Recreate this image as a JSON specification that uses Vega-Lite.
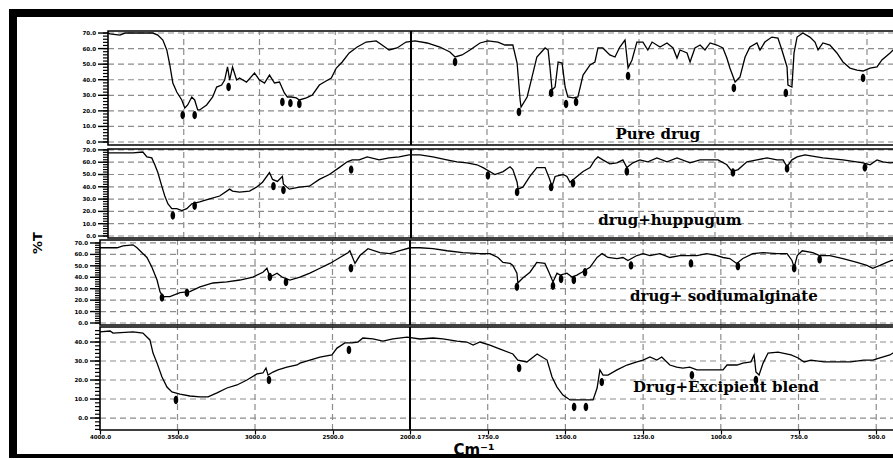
{
  "$schema": "https://vega.github.io/schema/vega-lite/v6.json",
  "width": 890,
  "height": 445,
  "autosize": "none",
  "padding": {"left": 13, "top": 13, "right": 0, "bottom": 0},
  "background": "white",
  "config": {
    "view": {"stroke": "#000", "strokeWidth": 8, "fill": "white"},
    "axis": {"grid": false, "domain": false}
  },
  "datasets": {
    "vgrid": [{"wn": 3500}, {"wn": 3000}, {"wn": 2500}, {"wn": 1750}, {"wn": 1500}, {"wn": 1250}, {"wn": 1000}, {"wn": 750}, {"wn": 500}],
    "hgrid": [{"t": 0}, {"t": 10}, {"t": 20}, {"t": 30}, {"t": 40}, {"t": 50}, {"t": 60}, {"t": 70}],
    "yticks": [{"t":-6},{"t":-4},{"t":-2},{"t":0},{"t":2},{"t":4},{"t":6},{"t":8},{"t":10},{"t":12},{"t":14},{"t":16},{"t":18},{"t":20},{"t":22},{"t":24},{"t":26},{"t":28},{"t":30},{"t":32},{"t":34},{"t":36},{"t":38},{"t":40},{"t":42},{"t":44},{"t":46},{"t":48},{"t":50},{"t":52},{"t":54},{"t":56},{"t":58},{"t":60},{"t":62},{"t":64},{"t":66},{"t":68},{"t":70}],
    "labels": [
      {"panel": 1, "wn": 1188, "t": 1.9, "label": "Pure drug"},
      {"panel": 2, "wn": 1148, "t": 9.0, "label": "drug+huppugum"},
      {"panel": 3, "wn": 990, "t": 19.3, "label": "drug+ sodiumalginate"},
      {"panel": 4, "wn": 983, "t": 13.7, "label": "Drug+Excipient blend"}
    ],
    "pureDrug": [
      {"wn":4000,"t":70.0},{"wn":3987,"t":69.4},{"wn":3921,"t":68.7},{"wn":3888,"t":70.0},{"wn":3704,"t":70.0},{"wn":3671,"t":68.7},{"wn":3638,"t":65.5},{"wn":3612,"t":59.1},{"wn":3592,"t":49.5},{"wn":3572,"t":37.9},{"wn":3546,"t":32.1},{"wn":3513,"t":27.0},{"wn":3493,"t":21.8},{"wn":3474,"t":23.8},{"wn":3447,"t":28.9},{"wn":3428,"t":27.0},{"wn":3408,"t":20.6},{"wn":3395,"t":20.6},{"wn":3349,"t":23.8},{"wn":3309,"t":28.9},{"wn":3283,"t":35.3},{"wn":3250,"t":36.6},{"wn":3230,"t":39.8},{"wn":3211,"t":48.2},{"wn":3197,"t":39.8},{"wn":3178,"t":48.2},{"wn":3151,"t":39.8},{"wn":3132,"t":41.1},{"wn":3086,"t":38.5},{"wn":3033,"t":44.3},{"wn":3000,"t":39.8},{"wn":2967,"t":37.9},{"wn":2934,"t":43.0},{"wn":2901,"t":37.9},{"wn":2868,"t":38.5},{"wn":2836,"t":31.5},{"wn":2816,"t":28.9},{"wn":2789,"t":28.9},{"wn":2757,"t":28.3},{"wn":2737,"t":27.0},{"wn":2691,"t":28.3},{"wn":2651,"t":30.2},{"wn":2605,"t":36.6},{"wn":2572,"t":38.5},{"wn":2526,"t":41.1},{"wn":2493,"t":47.5},{"wn":2454,"t":51.4},{"wn":2408,"t":57.2},{"wn":2355,"t":61.0},{"wn":2296,"t":64.2},{"wn":2230,"t":64.9},{"wn":2191,"t":62.3},{"wn":2145,"t":59.1},{"wn":2092,"t":60.4},{"wn":2033,"t":64.2},{"wn":1987,"t":64.9},{"wn":1947,"t":63.6},{"wn":1905,"t":61.0},{"wn":1872,"t":57.8},{"wn":1855,"t":54.6},{"wn":1832,"t":55.9},{"wn":1806,"t":59.1},{"wn":1773,"t":63.6},{"wn":1747,"t":64.9},{"wn":1714,"t":64.2},{"wn":1691,"t":62.3},{"wn":1665,"t":62.3},{"wn":1651,"t":50.7},{"wn":1641,"t":27.0},{"wn":1638,"t":22.5},{"wn":1618,"t":28.9},{"wn":1602,"t":41.7},{"wn":1586,"t":54.6},{"wn":1559,"t":60.4},{"wn":1549,"t":59.1},{"wn":1543,"t":48.2},{"wn":1536,"t":33.4},{"wn":1526,"t":35.3},{"wn":1516,"t":51.4},{"wn":1503,"t":50.7},{"wn":1493,"t":35.3},{"wn":1484,"t":28.9},{"wn":1467,"t":28.3},{"wn":1451,"t":28.9},{"wn":1434,"t":43.0},{"wn":1411,"t":49.5},{"wn":1395,"t":51.4},{"wn":1385,"t":60.4},{"wn":1369,"t":60.4},{"wn":1346,"t":55.9},{"wn":1329,"t":54.6},{"wn":1313,"t":61.0},{"wn":1296,"t":65.5},{"wn":1286,"t":47.5},{"wn":1273,"t":52.7},{"wn":1257,"t":64.2},{"wn":1237,"t":64.2},{"wn":1221,"t":59.1},{"wn":1207,"t":64.2},{"wn":1181,"t":61.0},{"wn":1158,"t":63.6},{"wn":1138,"t":60.4},{"wn":1125,"t":53.9},{"wn":1115,"t":59.1},{"wn":1092,"t":57.2},{"wn":1082,"t":51.4},{"wn":1066,"t":60.4},{"wn":1049,"t":62.3},{"wn":1033,"t":59.1},{"wn":1016,"t":63.6},{"wn":994,"t":62.3},{"wn":974,"t":60.4},{"wn":961,"t":53.9},{"wn":951,"t":47.5},{"wn":934,"t":38.5},{"wn":918,"t":41.7},{"wn":901,"t":54.6},{"wn":885,"t":61.0},{"wn":862,"t":63.6},{"wn":852,"t":59.1},{"wn":836,"t":64.2},{"wn":813,"t":67.4},{"wn":793,"t":66.8},{"wn":780,"t":59.1},{"wn":763,"t":48.2},{"wn":760,"t":36.6},{"wn":747,"t":35.3},{"wn":740,"t":57.2},{"wn":730,"t":67.4},{"wn":711,"t":70.0},{"wn":688,"t":67.4},{"wn":671,"t":64.2},{"wn":661,"t":59.1},{"wn":645,"t":63.6},{"wn":622,"t":62.3},{"wn":599,"t":57.2},{"wn":579,"t":51.4},{"wn":556,"t":47.5},{"wn":533,"t":46.2},{"wn":513,"t":45.6},{"wn":490,"t":47.5},{"wn":467,"t":48.2},{"wn":451,"t":52.7},{"wn":424,"t":57.2},{"wn":414,"t":59.1},{"wn":400,"t":61.0}
    ],
    "drugHuppugum": [
      {"wn":4000,"t":67.5},{"wn":3836,"t":67.5},{"wn":3770,"t":68.3},{"wn":3743,"t":64.3},{"wn":3711,"t":63.5},{"wn":3691,"t":57.9},{"wn":3671,"t":51.6},{"wn":3645,"t":40.5},{"wn":3625,"t":32.5},{"wn":3605,"t":26.2},{"wn":3579,"t":22.2},{"wn":3546,"t":22.2},{"wn":3513,"t":20.6},{"wn":3480,"t":22.2},{"wn":3447,"t":26.2},{"wn":3395,"t":27.8},{"wn":3329,"t":30.2},{"wn":3263,"t":32.5},{"wn":3197,"t":38.1},{"wn":3178,"t":36.5},{"wn":3132,"t":35.7},{"wn":3066,"t":36.5},{"wn":3020,"t":39.7},{"wn":2980,"t":43.7},{"wn":2934,"t":51.6},{"wn":2914,"t":46.0},{"wn":2882,"t":44.4},{"wn":2849,"t":48.4},{"wn":2842,"t":42.1},{"wn":2803,"t":38.1},{"wn":2737,"t":39.7},{"wn":2671,"t":40.5},{"wn":2605,"t":46.0},{"wn":2539,"t":50.0},{"wn":2474,"t":55.6},{"wn":2421,"t":60.3},{"wn":2388,"t":61.9},{"wn":2342,"t":61.9},{"wn":2289,"t":64.3},{"wn":2210,"t":61.9},{"wn":2145,"t":63.5},{"wn":2079,"t":64.3},{"wn":2013,"t":65.9},{"wn":1970,"t":65.9},{"wn":1928,"t":64.3},{"wn":1882,"t":61.9},{"wn":1849,"t":60.3},{"wn":1816,"t":59.5},{"wn":1783,"t":57.9},{"wn":1763,"t":55.6},{"wn":1724,"t":50.0},{"wn":1697,"t":52.4},{"wn":1674,"t":56.3},{"wn":1665,"t":54.0},{"wn":1651,"t":43.7},{"wn":1648,"t":38.1},{"wn":1632,"t":39.7},{"wn":1609,"t":48.4},{"wn":1586,"t":55.6},{"wn":1559,"t":55.6},{"wn":1546,"t":47.6},{"wn":1536,"t":40.5},{"wn":1526,"t":48.4},{"wn":1500,"t":50.0},{"wn":1487,"t":48.4},{"wn":1477,"t":43.7},{"wn":1454,"t":48.4},{"wn":1434,"t":52.4},{"wn":1411,"t":55.6},{"wn":1395,"t":61.9},{"wn":1385,"t":64.3},{"wn":1369,"t":61.9},{"wn":1346,"t":58.7},{"wn":1323,"t":59.5},{"wn":1303,"t":61.9},{"wn":1290,"t":55.6},{"wn":1270,"t":59.5},{"wn":1247,"t":61.9},{"wn":1221,"t":60.3},{"wn":1191,"t":63.5},{"wn":1158,"t":60.3},{"wn":1125,"t":63.5},{"wn":1082,"t":59.5},{"wn":1049,"t":61.9},{"wn":1016,"t":61.9},{"wn":990,"t":61.9},{"wn":961,"t":57.9},{"wn":944,"t":52.4},{"wn":924,"t":54.0},{"wn":895,"t":60.3},{"wn":862,"t":61.9},{"wn":829,"t":63.5},{"wn":796,"t":61.9},{"wn":776,"t":61.9},{"wn":763,"t":56.3},{"wn":747,"t":61.9},{"wn":730,"t":64.3},{"wn":704,"t":65.9},{"wn":645,"t":63.5},{"wn":579,"t":61.9},{"wn":513,"t":59.5},{"wn":490,"t":57.9},{"wn":467,"t":61.9},{"wn":448,"t":60.3},{"wn":424,"t":59.5},{"wn":400,"t":60.0}
    ],
    "drugSodiumAlginate": [
      {"wn":4000,"t":65.8},{"wn":3890,"t":65.8},{"wn":3852,"t":67.5},{"wn":3787,"t":68.4},{"wn":3761,"t":65.8},{"wn":3729,"t":61.5},{"wn":3697,"t":57.3},{"wn":3665,"t":48.7},{"wn":3632,"t":37.6},{"wn":3613,"t":27.4},{"wn":3594,"t":23.1},{"wn":3549,"t":23.1},{"wn":3484,"t":26.5},{"wn":3420,"t":27.4},{"wn":3355,"t":31.6},{"wn":3271,"t":35.0},{"wn":3181,"t":35.9},{"wn":3097,"t":37.6},{"wn":3013,"t":40.2},{"wn":2949,"t":44.4},{"wn":2923,"t":47.9},{"wn":2904,"t":40.2},{"wn":2858,"t":43.6},{"wn":2826,"t":40.2},{"wn":2775,"t":37.6},{"wn":2710,"t":40.2},{"wn":2646,"t":43.6},{"wn":2581,"t":47.9},{"wn":2517,"t":52.1},{"wn":2452,"t":57.3},{"wn":2400,"t":61.5},{"wn":2388,"t":63.2},{"wn":2355,"t":52.1},{"wn":2323,"t":59.0},{"wn":2271,"t":65.0},{"wn":2194,"t":61.5},{"wn":2130,"t":60.7},{"wn":2065,"t":63.2},{"wn":2000,"t":65.8},{"wn":1968,"t":65.8},{"wn":1926,"t":65.0},{"wn":1881,"t":63.2},{"wn":1830,"t":61.5},{"wn":1775,"t":60.7},{"wn":1743,"t":60.7},{"wn":1717,"t":57.3},{"wn":1701,"t":53.0},{"wn":1678,"t":52.1},{"wn":1669,"t":50.4},{"wn":1656,"t":43.6},{"wn":1653,"t":35.0},{"wn":1637,"t":39.3},{"wn":1614,"t":44.4},{"wn":1592,"t":53.0},{"wn":1566,"t":52.1},{"wn":1553,"t":44.4},{"wn":1540,"t":35.9},{"wn":1527,"t":43.6},{"wn":1517,"t":41.9},{"wn":1495,"t":43.6},{"wn":1479,"t":40.2},{"wn":1463,"t":41.9},{"wn":1447,"t":44.4},{"wn":1421,"t":48.7},{"wn":1398,"t":57.3},{"wn":1382,"t":60.7},{"wn":1363,"t":57.3},{"wn":1334,"t":56.4},{"wn":1315,"t":57.3},{"wn":1299,"t":54.7},{"wn":1270,"t":59.0},{"wn":1250,"t":60.7},{"wn":1228,"t":59.0},{"wn":1196,"t":60.7},{"wn":1164,"t":57.3},{"wn":1132,"t":59.0},{"wn":1106,"t":59.0},{"wn":1077,"t":59.0},{"wn":1045,"t":60.7},{"wn":1012,"t":59.0},{"wn":993,"t":57.3},{"wn":971,"t":56.4},{"wn":949,"t":52.1},{"wn":929,"t":56.4},{"wn":897,"t":60.7},{"wn":864,"t":61.5},{"wn":819,"t":60.7},{"wn":787,"t":60.7},{"wn":771,"t":54.7},{"wn":764,"t":48.7},{"wn":754,"t":59.0},{"wn":738,"t":63.2},{"wn":704,"t":61.5},{"wn":682,"t":59.0},{"wn":649,"t":59.0},{"wn":607,"t":56.4},{"wn":562,"t":53.0},{"wn":530,"t":50.4},{"wn":511,"t":47.9},{"wn":488,"t":50.4},{"wn":466,"t":53.0},{"wn":450,"t":54.7},{"wn":400,"t":56.0}
    ],
    "drugExcipientBlend": [
      {"wn":4000,"t":45.3},{"wn":3935,"t":45.8},{"wn":3916,"t":44.7},{"wn":3787,"t":45.3},{"wn":3723,"t":44.7},{"wn":3678,"t":41.1},{"wn":3658,"t":34.2},{"wn":3632,"t":28.9},{"wn":3600,"t":21.6},{"wn":3568,"t":16.3},{"wn":3536,"t":13.7},{"wn":3484,"t":12.6},{"wn":3420,"t":11.6},{"wn":3355,"t":11.1},{"wn":3303,"t":11.1},{"wn":3245,"t":13.2},{"wn":3181,"t":15.8},{"wn":3116,"t":17.4},{"wn":3052,"t":20.0},{"wn":2987,"t":23.2},{"wn":2949,"t":23.7},{"wn":2929,"t":26.3},{"wn":2916,"t":22.6},{"wn":2884,"t":24.2},{"wn":2852,"t":25.3},{"wn":2794,"t":26.8},{"wn":2729,"t":27.9},{"wn":2710,"t":28.9},{"wn":2646,"t":30.5},{"wn":2581,"t":32.1},{"wn":2504,"t":33.2},{"wn":2471,"t":36.8},{"wn":2420,"t":39.5},{"wn":2375,"t":39.5},{"wn":2336,"t":40.0},{"wn":2304,"t":42.1},{"wn":2239,"t":41.6},{"wn":2175,"t":40.5},{"wn":2110,"t":41.6},{"wn":2019,"t":42.6},{"wn":1968,"t":41.6},{"wn":1926,"t":42.1},{"wn":1894,"t":41.6},{"wn":1849,"t":40.5},{"wn":1817,"t":40.0},{"wn":1797,"t":38.4},{"wn":1775,"t":40.0},{"wn":1743,"t":38.4},{"wn":1710,"t":36.3},{"wn":1669,"t":33.7},{"wn":1653,"t":30.5},{"wn":1624,"t":29.5},{"wn":1591,"t":33.7},{"wn":1559,"t":30.5},{"wn":1543,"t":21.6},{"wn":1527,"t":16.3},{"wn":1508,"t":12.1},{"wn":1485,"t":9.5},{"wn":1453,"t":9.5},{"wn":1421,"t":9.5},{"wn":1411,"t":9.5},{"wn":1398,"t":15.8},{"wn":1389,"t":25.3},{"wn":1379,"t":22.6},{"wn":1363,"t":22.6},{"wn":1334,"t":25.3},{"wn":1302,"t":27.9},{"wn":1270,"t":29.5},{"wn":1250,"t":30.5},{"wn":1228,"t":32.1},{"wn":1206,"t":30.5},{"wn":1190,"t":32.1},{"wn":1164,"t":27.9},{"wn":1142,"t":26.8},{"wn":1122,"t":26.3},{"wn":1100,"t":26.8},{"wn":1077,"t":25.3},{"wn":1057,"t":25.3},{"wn":993,"t":25.3},{"wn":980,"t":27.9},{"wn":948,"t":27.9},{"wn":929,"t":28.9},{"wn":903,"t":29.5},{"wn":893,"t":33.2},{"wn":887,"t":24.2},{"wn":877,"t":22.6},{"wn":864,"t":28.9},{"wn":848,"t":34.2},{"wn":816,"t":34.7},{"wn":774,"t":33.2},{"wn":751,"t":31.6},{"wn":732,"t":29.5},{"wn":710,"t":30.5},{"wn":668,"t":29.5},{"wn":623,"t":29.5},{"wn":582,"t":29.5},{"wn":540,"t":30.5},{"wn":511,"t":30.5},{"wn":488,"t":31.6},{"wn":456,"t":33.2},{"wn":446,"t":34.2},{"wn":400,"t":36.0}
    ],
    "peaksPure": [
      {"wn":3507,"t":17.3},{"wn":3428,"t":17.3},{"wn":3204,"t":35.3},{"wn":2849,"t":25.7},{"wn":2796,"t":25.0},{"wn":2737,"t":24.4},{"wn":1855,"t":51.4},{"wn":1645,"t":19.3},{"wn":1539,"t":31.5},{"wn":1490,"t":24.4},{"wn":1457,"t":25.7},{"wn":1286,"t":42.4},{"wn":938,"t":34.7},{"wn":767,"t":31.5},{"wn":513,"t":41.1}
    ],
    "peaksHuppugum": [
      {"wn":3572,"t":16.7},{"wn":3428,"t":24.6},{"wn":2908,"t":40.5},{"wn":2842,"t":37.3},{"wn":2395,"t":54.0},{"wn":1747,"t":49.2},{"wn":1651,"t":35.7},{"wn":1539,"t":39.7},{"wn":1467,"t":42.9},{"wn":1290,"t":52.4},{"wn":941,"t":51.6},{"wn":763,"t":54.8},{"wn":507,"t":55.6}
    ],
    "peaksAlginate": [
      {"wn":3600,"t":22.2},{"wn":3439,"t":26.5},{"wn":2904,"t":40.2},{"wn":2800,"t":35.9},{"wn":2381,"t":47.9},{"wn":1656,"t":31.6},{"wn":1540,"t":32.5},{"wn":1514,"t":38.5},{"wn":1473,"t":37.6},{"wn":1437,"t":44.4},{"wn":1289,"t":50.4},{"wn":1096,"t":52.1},{"wn":945,"t":49.6},{"wn":764,"t":47.9},{"wn":682,"t":55.6}
    ],
    "peaksBlend": [
      {"wn":3510,"t":9.5},{"wn":2910,"t":20.0},{"wn":2394,"t":35.8},{"wn":1649,"t":26.3},{"wn":1472,"t":5.8},{"wn":1434,"t":5.8},{"wn":1383,"t":18.9},{"wn":1093,"t":22.6},{"wn":887,"t":20.0}
    ]
  },
  "layer": [
    {
      "layer": [
        {"data": {"name": "vgrid"}, "mark": {"type": "rule", "stroke": "#8c8c8c", "strokeWidth": 1.2, "strokeDash": [6, 4]},
         "encoding": {"x": {"field": "wn", "type": "quantitative", "scale": {"domain": [4000, 2000, 400], "range": [95, 398, 884.4], "nice": false, "zero": false}, "axis": null},
                      "y": {"datum": -1.93, "type": "quantitative", "scale": {"domain": [-1.93, 71.3], "range": [132, 18], "nice": false, "zero": false}, "axis": null}, "y2": {"datum": 71.3}}},
        {"data": {"name": "hgrid"}, "mark": {"type": "rule", "stroke": "#8c8c8c", "strokeWidth": 1.2, "strokeDash": [6, 4]},
         "encoding": {"y": {"field": "t", "type": "quantitative", "axis": null}, "x": {"datum": 4000, "type": "quantitative", "axis": null}, "x2": {"datum": 400}}},
        {"data": {"values": [{}]}, "mark": {"type": "rule", "stroke": "#000", "strokeWidth": 2},
         "encoding": {"x": {"datum": 2000, "type": "quantitative", "axis": null}, "y": {"datum": -1.93, "type": "quantitative", "axis": null}, "y2": {"datum": 71.3}}},
        {"data": {"values": [{}]}, "mark": {"type": "rect", "filled": false, "stroke": "#000", "strokeWidth": 1.6},
         "encoding": {"x": {"datum": 4000, "type": "quantitative", "axis": null}, "x2": {"datum": 400}, "y": {"datum": -1.93, "type": "quantitative", "axis": null}, "y2": {"datum": 71.3}}},
        {"data": {"name": "yticks"}, "transform": [{"filter": "datum.t >= 0 && datum.t <= 70"}], "mark": {"type": "tick", "orient": "horizontal", "size": 5, "thickness": 1.2, "xOffset": -2.5, "color": "#000", "opacity": 1},
         "encoding": {"x": {"datum": 4000, "type": "quantitative", "axis": null}, "y": {"field": "t", "type": "quantitative", "axis": null}}},
        {"data": {"name": "yticks"}, "transform": [{"filter": "datum.t >= 0 && datum.t <= 70 && datum.t % 10 === 0"}], "mark": {"type": "tick", "orient": "horizontal", "size": 10, "thickness": 1.4, "xOffset": -5, "color": "#000", "opacity": 1},
         "encoding": {"x": {"datum": 4000, "type": "quantitative", "axis": null}, "y": {"field": "t", "type": "quantitative", "axis": null}}},
        {"data": {"name": "yticks"}, "transform": [{"filter": "datum.t >= 0 && datum.t <= 70 && datum.t % 10 === 0"}], "mark": {"type": "text", "align": "right", "baseline": "middle", "dx": -12, "font": "DejaVu Sans", "fontWeight": "bold", "fontSize": 5.5, "color": "#000"},
         "encoding": {"x": {"datum": 4000, "type": "quantitative", "axis": null}, "y": {"field": "t", "type": "quantitative", "axis": null}, "text": {"field": "t", "type": "quantitative", "format": ".1f"}}},
        {"data": {"name": "pureDrug"}, "mark": {"type": "line", "stroke": "#000", "strokeWidth": 1.3},
         "encoding": {"x": {"field": "wn", "type": "quantitative", "axis": null}, "y": {"field": "t", "type": "quantitative", "axis": null}}},
        {"data": {"name": "peaksPure"}, "mark": {"type": "point", "shape": "M0,-1A0.55,1,0,1,1,0,1A0.55,1,0,1,1,0,-1Z", "filled": true, "fill": "#000", "size": 70, "opacity": 1},
         "encoding": {"x": {"field": "wn", "type": "quantitative", "axis": null}, "y": {"field": "t", "type": "quantitative", "axis": null}}},
        {"data": {"name": "labels"}, "transform": [{"filter": "datum.panel === 1"}], "mark": {"type": "text", "font": "DejaVu Serif", "fontWeight": "bold", "fontSize": 15, "align": "center", "baseline": "alphabetic", "color": "#000"},
         "encoding": {"x": {"field": "wn", "type": "quantitative", "axis": null}, "y": {"field": "t", "type": "quantitative", "axis": null}, "text": {"field": "label"}}}
      ]
    },
    {
      "layer": [
        {"data": {"name": "vgrid"}, "mark": {"type": "rule", "stroke": "#8c8c8c", "strokeWidth": 1.2, "strokeDash": [6, 4]},
         "encoding": {"x": {"field": "wn", "type": "quantitative", "scale": {"domain": [4000, 2000, 400], "range": [95, 398, 884.4], "nice": false, "zero": false}, "axis": null},
                      "y": {"datum": -1.63, "type": "quantitative", "scale": {"domain": [-1.63, 70.73], "range": [225, 136], "nice": false, "zero": false}, "axis": null}, "y2": {"datum": 70.73}}},
        {"data": {"name": "hgrid"}, "mark": {"type": "rule", "stroke": "#8c8c8c", "strokeWidth": 1.2, "strokeDash": [6, 4]},
         "encoding": {"y": {"field": "t", "type": "quantitative", "axis": null}, "x": {"datum": 4000, "type": "quantitative", "axis": null}, "x2": {"datum": 400}}},
        {"data": {"values": [{}]}, "mark": {"type": "rule", "stroke": "#000", "strokeWidth": 2},
         "encoding": {"x": {"datum": 2000, "type": "quantitative", "axis": null}, "y": {"datum": -1.63, "type": "quantitative", "axis": null}, "y2": {"datum": 70.73}}},
        {"data": {"values": [{}]}, "mark": {"type": "rect", "filled": false, "stroke": "#000", "strokeWidth": 1.6},
         "encoding": {"x": {"datum": 4000, "type": "quantitative", "axis": null}, "x2": {"datum": 400}, "y": {"datum": -1.63, "type": "quantitative", "axis": null}, "y2": {"datum": 70.73}}},
        {"data": {"name": "yticks"}, "transform": [{"filter": "datum.t >= 0 && datum.t <= 70"}], "mark": {"type": "tick", "orient": "horizontal", "size": 5, "thickness": 1.2, "xOffset": -2.5, "color": "#000", "opacity": 1},
         "encoding": {"x": {"datum": 4000, "type": "quantitative", "axis": null}, "y": {"field": "t", "type": "quantitative", "axis": null}}},
        {"data": {"name": "yticks"}, "transform": [{"filter": "datum.t >= 0 && datum.t <= 70 && datum.t % 10 === 0"}], "mark": {"type": "tick", "orient": "horizontal", "size": 10, "thickness": 1.4, "xOffset": -5, "color": "#000", "opacity": 1},
         "encoding": {"x": {"datum": 4000, "type": "quantitative", "axis": null}, "y": {"field": "t", "type": "quantitative", "axis": null}}},
        {"data": {"name": "yticks"}, "transform": [{"filter": "datum.t >= 0 && datum.t <= 70 && datum.t % 10 === 0"}], "mark": {"type": "text", "align": "right", "baseline": "middle", "dx": -12, "font": "DejaVu Sans", "fontWeight": "bold", "fontSize": 5.5, "color": "#000"},
         "encoding": {"x": {"datum": 4000, "type": "quantitative", "axis": null}, "y": {"field": "t", "type": "quantitative", "axis": null}, "text": {"field": "t", "type": "quantitative", "format": ".1f"}}},
        {"data": {"name": "drugHuppugum"}, "mark": {"type": "line", "stroke": "#000", "strokeWidth": 1.3},
         "encoding": {"x": {"field": "wn", "type": "quantitative", "axis": null}, "y": {"field": "t", "type": "quantitative", "axis": null}}},
        {"data": {"name": "peaksHuppugum"}, "mark": {"type": "point", "shape": "M0,-1A0.55,1,0,1,1,0,1A0.55,1,0,1,1,0,-1Z", "filled": true, "fill": "#000", "size": 70, "opacity": 1},
         "encoding": {"x": {"field": "wn", "type": "quantitative", "axis": null}, "y": {"field": "t", "type": "quantitative", "axis": null}}},
        {"data": {"name": "labels"}, "transform": [{"filter": "datum.panel === 2"}], "mark": {"type": "text", "font": "DejaVu Serif", "fontWeight": "bold", "fontSize": 15, "align": "center", "baseline": "alphabetic", "color": "#000"},
         "encoding": {"x": {"field": "wn", "type": "quantitative", "axis": null}, "y": {"field": "t", "type": "quantitative", "axis": null}, "text": {"field": "label"}}}
      ]
    },
    {
      "layer": [
        {"data": {"name": "vgrid"}, "mark": {"type": "rule", "stroke": "#8c8c8c", "strokeWidth": 1.2, "strokeDash": [6, 4]},
         "encoding": {"x": {"field": "wn", "type": "quantitative", "scale": {"domain": [4000, 2000, 400], "range": [87, 397, 894.3], "nice": false, "zero": false}, "axis": null},
                      "y": {"datum": -1.75, "type": "quantitative", "scale": {"domain": [-1.75, 72.6], "range": [312, 227], "nice": false, "zero": false}, "axis": null}, "y2": {"datum": 72.6}}},
        {"data": {"name": "hgrid"}, "mark": {"type": "rule", "stroke": "#8c8c8c", "strokeWidth": 1.2, "strokeDash": [6, 4]},
         "encoding": {"y": {"field": "t", "type": "quantitative", "axis": null}, "x": {"datum": 4000, "type": "quantitative", "axis": null}, "x2": {"datum": 400}}},
        {"data": {"values": [{}]}, "mark": {"type": "rule", "stroke": "#000", "strokeWidth": 2},
         "encoding": {"x": {"datum": 2000, "type": "quantitative", "axis": null}, "y": {"datum": -1.75, "type": "quantitative", "axis": null}, "y2": {"datum": 72.6}}},
        {"data": {"values": [{}]}, "mark": {"type": "rect", "filled": false, "stroke": "#000", "strokeWidth": 1.6},
         "encoding": {"x": {"datum": 4000, "type": "quantitative", "axis": null}, "x2": {"datum": 400}, "y": {"datum": -1.75, "type": "quantitative", "axis": null}, "y2": {"datum": 72.6}}},
        {"data": {"name": "yticks"}, "transform": [{"filter": "datum.t >= 0 && datum.t <= 70"}], "mark": {"type": "tick", "orient": "horizontal", "size": 5, "thickness": 1.2, "xOffset": -2.5, "color": "#000", "opacity": 1},
         "encoding": {"x": {"datum": 4000, "type": "quantitative", "axis": null}, "y": {"field": "t", "type": "quantitative", "axis": null}}},
        {"data": {"name": "yticks"}, "transform": [{"filter": "datum.t >= 0 && datum.t <= 70 && datum.t % 10 === 0"}], "mark": {"type": "tick", "orient": "horizontal", "size": 10, "thickness": 1.4, "xOffset": -5, "color": "#000", "opacity": 1},
         "encoding": {"x": {"datum": 4000, "type": "quantitative", "axis": null}, "y": {"field": "t", "type": "quantitative", "axis": null}}},
        {"data": {"name": "yticks"}, "transform": [{"filter": "datum.t >= 0 && datum.t <= 70 && datum.t % 10 === 0"}], "mark": {"type": "text", "align": "right", "baseline": "middle", "dx": -12, "font": "DejaVu Sans", "fontWeight": "bold", "fontSize": 5.5, "color": "#000"},
         "encoding": {"x": {"datum": 4000, "type": "quantitative", "axis": null}, "y": {"field": "t", "type": "quantitative", "axis": null}, "text": {"field": "t", "type": "quantitative", "format": ".1f"}}},
        {"data": {"name": "drugSodiumAlginate"}, "mark": {"type": "line", "stroke": "#000", "strokeWidth": 1.3},
         "encoding": {"x": {"field": "wn", "type": "quantitative", "axis": null}, "y": {"field": "t", "type": "quantitative", "axis": null}}},
        {"data": {"name": "peaksAlginate"}, "mark": {"type": "point", "shape": "M0,-1A0.55,1,0,1,1,0,1A0.55,1,0,1,1,0,-1Z", "filled": true, "fill": "#000", "size": 70, "opacity": 1},
         "encoding": {"x": {"field": "wn", "type": "quantitative", "axis": null}, "y": {"field": "t", "type": "quantitative", "axis": null}}},
        {"data": {"name": "labels"}, "transform": [{"filter": "datum.panel === 3"}], "mark": {"type": "text", "font": "DejaVu Serif", "fontWeight": "bold", "fontSize": 15, "align": "center", "baseline": "alphabetic", "color": "#000"},
         "encoding": {"x": {"field": "wn", "type": "quantitative", "axis": null}, "y": {"field": "t", "type": "quantitative", "axis": null}, "text": {"field": "label"}}},
        {"data": {"values": [{}]}, "mark": {"type": "text", "text": "%T", "font": "DejaVu Sans", "fontWeight": "bold", "fontSize": 13, "angle": 270, "align": "center", "baseline": "middle", "color": "#000"},
         "encoding": {"x": {"datum": 4400, "type": "quantitative", "axis": null}, "y": {"datum": 70, "type": "quantitative", "axis": null}}}
      ]
    },
    {
      "layer": [
        {"data": {"name": "vgrid"}, "mark": {"type": "rule", "stroke": "#8c8c8c", "strokeWidth": 1.2, "strokeDash": [6, 4]},
         "encoding": {"x": {"field": "wn", "type": "quantitative", "scale": {"domain": [4000, 2000, 400], "range": [87, 397, 894.3], "nice": false, "zero": false}},
                      "y": {"datum": -6.3, "type": "quantitative", "scale": {"domain": [-6.3, 47.9], "range": [417, 314], "nice": false, "zero": false}, "axis": null}, "y2": {"datum": 47.9}}},
        {"data": {"name": "hgrid"}, "transform": [{"filter": "datum.t <= 40"}], "mark": {"type": "rule", "stroke": "#8c8c8c", "strokeWidth": 1.2, "strokeDash": [6, 4]},
         "encoding": {"y": {"field": "t", "type": "quantitative", "axis": null}, "x": {"datum": 4000, "type": "quantitative"}, "x2": {"datum": 400}}},
        {"data": {"values": [{}]}, "mark": {"type": "rule", "stroke": "#000", "strokeWidth": 2},
         "encoding": {"x": {"datum": 2000, "type": "quantitative"}, "y": {"datum": -6.3, "type": "quantitative", "axis": null}, "y2": {"datum": 47.9}}},
        {"data": {"values": [{}]}, "mark": {"type": "rect", "filled": false, "stroke": "#000", "strokeWidth": 1.6},
         "encoding": {"x": {"datum": 4000, "type": "quantitative"}, "x2": {"datum": 400}, "y": {"datum": -6.3, "type": "quantitative", "axis": null}, "y2": {"datum": 47.9}}},
        {"data": {"name": "yticks"}, "transform": [{"filter": "datum.t <= 46"}], "mark": {"type": "tick", "orient": "horizontal", "size": 5, "thickness": 1.2, "xOffset": -2.5, "color": "#000", "opacity": 1},
         "encoding": {"x": {"datum": 4000, "type": "quantitative"}, "y": {"field": "t", "type": "quantitative", "axis": null}}},
        {"data": {"name": "yticks"}, "transform": [{"filter": "datum.t >= 0 && datum.t <= 46 && datum.t % 10 === 0"}], "mark": {"type": "tick", "orient": "horizontal", "size": 10, "thickness": 1.4, "xOffset": -5, "color": "#000", "opacity": 1},
         "encoding": {"x": {"datum": 4000, "type": "quantitative"}, "y": {"field": "t", "type": "quantitative", "axis": null}}},
        {"data": {"name": "yticks"}, "transform": [{"filter": "datum.t >= 0 && datum.t <= 46 && datum.t % 10 === 0"}], "mark": {"type": "text", "align": "right", "baseline": "middle", "dx": -12, "font": "DejaVu Sans", "fontWeight": "bold", "fontSize": 5.5, "color": "#000"},
         "encoding": {"x": {"datum": 4000, "type": "quantitative"}, "y": {"field": "t", "type": "quantitative", "axis": null}, "text": {"field": "t", "type": "quantitative", "format": ".1f"}}},
        {"data": {"name": "drugExcipientBlend"}, "mark": {"type": "line", "stroke": "#000", "strokeWidth": 1.3},
         "encoding": {"x": {"field": "wn", "type": "quantitative", "axis": {"orient": "bottom", "offset": -28, "values": [4000, 3500, 3000, 2500, 2000, 1750, 1500, 1250, 1000, 750, 500], "title": null, "tickColor": "#000", "tickWidth": 1.2, "tickSize": 4, "labelFont": "DejaVu Sans", "labelFontSize": 5.5, "labelFontWeight": "bold", "labelColor": "#000", "labelPadding": 0, "labelOverlap": false, "labelFlush": false, "format": ".1f"}},
                      "y": {"field": "t", "type": "quantitative", "axis": null}}},
        {"data": {"name": "peaksBlend"}, "mark": {"type": "point", "shape": "M0,-1A0.55,1,0,1,1,0,1A0.55,1,0,1,1,0,-1Z", "filled": true, "fill": "#000", "size": 70, "opacity": 1},
         "encoding": {"x": {"field": "wn", "type": "quantitative"}, "y": {"field": "t", "type": "quantitative", "axis": null}}},
        {"data": {"name": "labels"}, "transform": [{"filter": "datum.panel === 4"}], "mark": {"type": "text", "font": "DejaVu Serif", "fontWeight": "bold", "fontSize": 15, "align": "center", "baseline": "alphabetic", "color": "#000"},
         "encoding": {"x": {"field": "wn", "type": "quantitative"}, "y": {"field": "t", "type": "quantitative", "axis": null}, "text": {"field": "label"}}},
        {"data": {"values": [{}]}, "mark": {"type": "text", "text": "Cm⁻¹", "font": "DejaVu Sans", "fontWeight": "bold", "fontSize": 15, "align": "center", "baseline": "alphabetic", "color": "#000"},
         "encoding": {"x": {"datum": 1794, "type": "quantitative"}, "y": {"datum": -19.5, "type": "quantitative", "axis": null}}}
      ]
    }
  ],
  "resolve": {"scale": {"x": "independent", "y": "independent"}, "axis": {"x": "independent", "y": "independent"}}
}
